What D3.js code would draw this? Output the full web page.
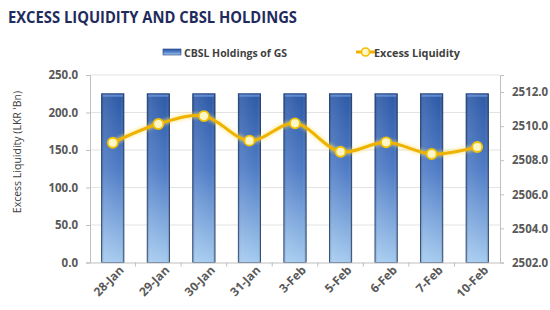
<!DOCTYPE html>
<html>
<head>
<meta charset="utf-8">
<script src="https://cdn.jsdelivr.net/npm/d3@7"></script>
<style>
  body { margin: 0; background: #fff; }
  text { font-family: "Open Sans", "DejaVu Sans", sans-serif; }
</style>
</head>
<body>
<svg id="chart" width="550" height="310"></svg>
<script>
// data
var dates = ["28-Jan", "29-Jan", "30-Jan", "31-Jan", "3-Feb", "5-Feb", "6-Feb", "7-Feb", "10-Feb"];
var holdings = [2511.9, 2511.9, 2511.9, 2511.9, 2511.9, 2511.9, 2511.9, 2511.9, 2511.9];
var excessLiq = [159.7, 184.7, 195.3, 162.4, 185.6, 147.7, 160.3, 144.7, 154.0];
var leftTicks = [0, 50, 100, 150, 200, 250];
var rightTicks = [2502, 2504, 2506, 2508, 2510, 2512];

var svg = d3.select("#chart");
var plot = { left: 90, right: 500, top: 75, bottom: 262.5 };

var x = d3.scaleBand().domain(dates).range([plot.left, plot.right]);
var yL = d3.scaleLinear().domain([0, 250]).range([plot.bottom, plot.top]);
var yR = d3.scaleLinear().domain([2502, 2513]).range([plot.bottom, plot.top]);

var defs = svg.append("defs");
var grad = defs.append("linearGradient").attr("id", "barGrad")
  .attr("x1", 0).attr("y1", 0).attr("x2", 0).attr("y2", 1);
grad.append("stop").attr("offset", "0%").attr("stop-color", "#2c59a6");
grad.append("stop").attr("offset", "45%").attr("stop-color", "#4f7cc6");
grad.append("stop").attr("offset", "100%").attr("stop-color", "#a5cbef");

var side = defs.append("linearGradient").attr("id", "sideGrad")
  .attr("x1", 0).attr("y1", 0).attr("x2", 1).attr("y2", 0);
side.append("stop").attr("offset", "0%").attr("stop-color", "#000").attr("stop-opacity", 0.25);
side.append("stop").attr("offset", "12%").attr("stop-color", "#fff").attr("stop-opacity", 0.1);
side.append("stop").attr("offset", "85%").attr("stop-color", "#fff").attr("stop-opacity", 0);
side.append("stop").attr("offset", "100%").attr("stop-color", "#000").attr("stop-opacity", 0.3);

var glow = defs.append("filter").attr("id", "glow")
  .attr("x", "-50%").attr("y", "-50%").attr("width", "200%").attr("height", "200%");
glow.append("feGaussianBlur").attr("stdDeviation", 1.5);

// title
svg.append("text")
  .attr("x", 8).attr("y", 23)
  .attr("font-size", 16).attr("font-weight", "bold")
  .attr("fill", "#1f2b5c")
  .attr("textLength", 289).attr("lengthAdjust", "spacingAndGlyphs")
  .text("EXCESS LIQUIDITY AND CBSL HOLDINGS");

// gridlines
svg.append("g").selectAll("line")
  .data(leftTicks.slice(1))
  .join("line")
  .attr("x1", plot.left).attr("x2", plot.right)
  .attr("y1", d => yL(d)).attr("y2", d => yL(d))
  .attr("stroke", "#e3e3e3").attr("stroke-width", 1);

// left axis
var axL = svg.append("g")
  .attr("transform", "translate(" + plot.left + ",0)")
  .call(d3.axisLeft(yL).tickValues(leftTicks).tickFormat(d3.format(".1f")).tickSize(4).tickPadding(8));
axL.select(".domain").attr("stroke", "#bfbfbf");
axL.selectAll(".tick line").attr("stroke", "#bfbfbf");
axL.selectAll("text").attr("font-size", 11.5).attr("font-weight", "bold").attr("fill", "#595959");

// right axis
var axR = svg.append("g")
  .attr("transform", "translate(" + plot.right + ",0)")
  .call(d3.axisRight(yR).tickValues(rightTicks).tickFormat(d3.format(".1f")).tickSize(4).tickPadding(8));
axR.select(".domain").attr("stroke", "#bfbfbf");
axR.selectAll(".tick line").attr("stroke", "#bfbfbf");
axR.selectAll("text").attr("font-size", 11.5).attr("font-weight", "bold").attr("fill", "#595959");

// left axis title
svg.append("text")
  .attr("transform", "translate(21,152) rotate(-90)")
  .attr("text-anchor", "middle")
  .attr("font-size", 10.5).attr("fill", "#404040")
  .text("Excess Liquidity (LKR 'Bn)");

// bars (right axis)
var bw = x.bandwidth() * 0.49;
var bars = svg.append("g").selectAll("g")
  .data(dates.map((d, i) => ({ date: d, v: holdings[i] })))
  .join("g");
bars.append("rect")
  .attr("x", d => x(d.date) + (x.bandwidth() - bw) / 2)
  .attr("y", d => yR(d.v))
  .attr("width", bw)
  .attr("height", d => plot.bottom - yR(d.v))
  .attr("fill", "url(#barGrad)")
  .attr("stroke", "#1f3f7a").attr("stroke-width", 0.8);
bars.append("rect")
  .attr("x", d => x(d.date) + (x.bandwidth() - bw) / 2)
  .attr("y", d => yR(d.v))
  .attr("width", bw)
  .attr("height", d => plot.bottom - yR(d.v))
  .attr("fill", "url(#sideGrad)");
bars.append("rect")
  .attr("x", d => x(d.date) + (x.bandwidth() - bw) / 2 + 1)
  .attr("y", d => yR(d.v) + 1)
  .attr("width", bw - 2).attr("height", 2)
  .attr("fill", "#6f95d6").attr("opacity", 0.8);

// x axis
var axX = svg.append("g")
  .attr("transform", "translate(0," + plot.bottom + ")")
  .call(d3.axisBottom(x).tickSize(0).tickPadding(9));
axX.select(".domain").attr("stroke", "#bfbfbf");
axX.selectAll("text")
  .attr("font-size", 12).attr("font-weight", "bold").attr("fill", "#595959")
  .attr("text-anchor", "end")
  .attr("dx", "0.2em").attr("dy", "0.45em")
  .attr("transform", "rotate(-45)");
// tick marks between categories
svg.append("g").selectAll("line")
  .data(dates.slice(1))
  .join("line")
  .attr("x1", d => x(d)).attr("x2", d => x(d))
  .attr("y1", plot.bottom).attr("y2", plot.bottom + 4)
  .attr("stroke", "#bfbfbf");

// line (left axis)
var pts = dates.map((d, i) => [x(d) + x.bandwidth() / 2, yL(excessLiq[i])]);
var lineGen = d3.line().curve(d3.curveCatmullRom.alpha(0.5));
svg.append("path").attr("d", lineGen(pts))
  .attr("fill", "none").attr("stroke", "#ffe066").attr("stroke-width", 6)
  .attr("opacity", 0.5).attr("filter", "url(#glow)");
svg.append("path").attr("d", lineGen(pts))
  .attr("fill", "none").attr("stroke", "#eeb300").attr("stroke-width", 3);
svg.append("g").selectAll("circle")
  .data(pts).join("circle")
  .attr("cx", d => d[0]).attr("cy", d => d[1]).attr("r", 5)
  .attr("fill", "#fff6c8").attr("stroke", "#f2c200").attr("stroke-width", 1.8);

// legend
var lg = svg.append("g");
lg.append("rect").attr("x", 163).attr("y", 49).attr("width", 18).attr("height", 6)
  .attr("fill", "url(#barGrad)").attr("stroke", "#1f3f7a").attr("stroke-width", 0.6);
lg.append("text").attr("x", 184).attr("y", 56.5)
  .attr("font-size", 10.5).attr("font-weight", "bold").attr("fill", "#404040")
  .attr("textLength", 103).attr("lengthAdjust", "spacingAndGlyphs")
  .text("CBSL Holdings of GS");
lg.append("line").attr("x1", 356).attr("x2", 375).attr("y1", 52).attr("y2", 52)
  .attr("stroke", "#eeb300").attr("stroke-width", 3);
lg.append("circle").attr("cx", 365.5).attr("cy", 52).attr("r", 4)
  .attr("fill", "#fff6c8").attr("stroke", "#f2c200").attr("stroke-width", 1.6);
lg.append("text").attr("x", 374).attr("y", 56.5)
  .attr("font-size", 10.5).attr("font-weight", "bold").attr("fill", "#404040")
  .attr("textLength", 86).attr("lengthAdjust", "spacingAndGlyphs")
  .text("Excess Liquidity");
</script>
</body>
</html>
